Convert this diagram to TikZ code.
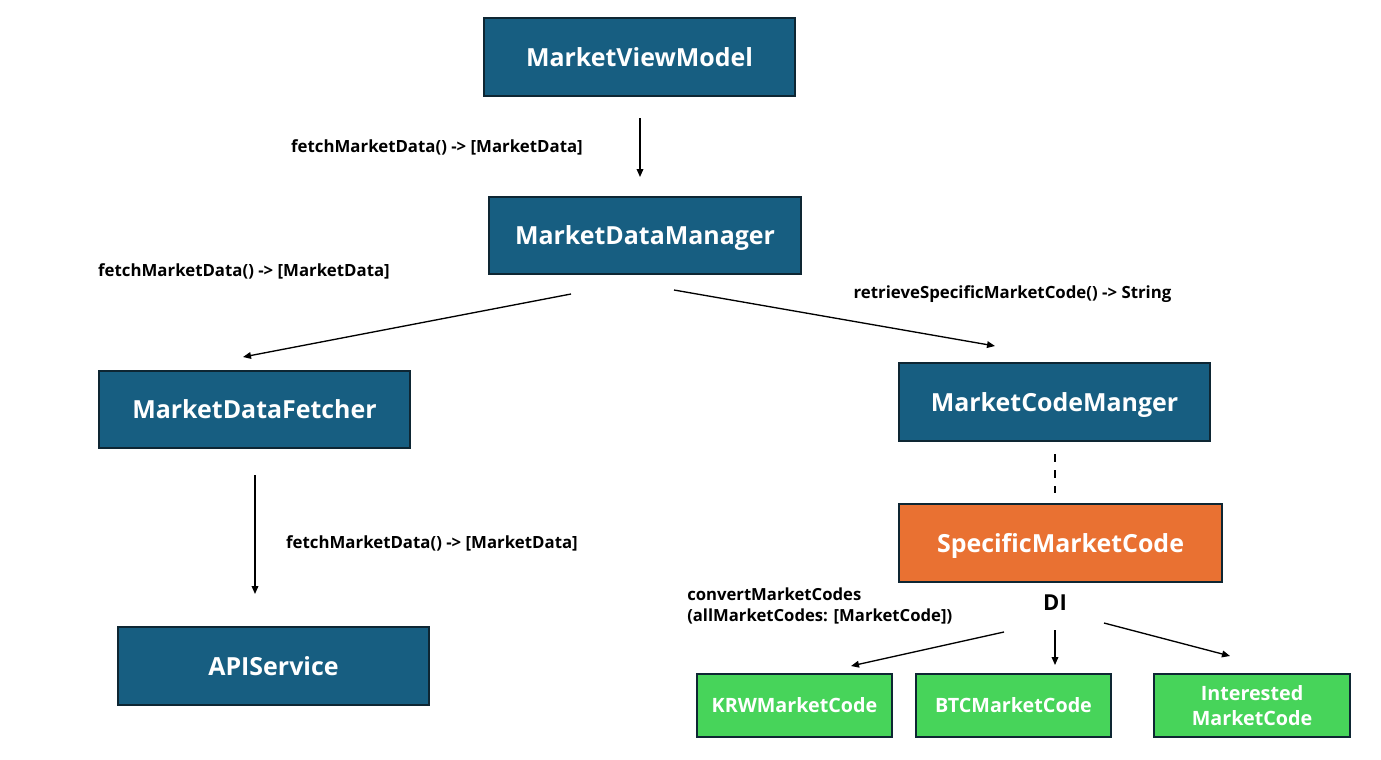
\documentclass[tikz,border=0pt]{standalone}
\usepackage{fontspec}
\setmainfont{Open Sans}
\usetikzlibrary{arrows.meta}
\definecolor{bluefill}{HTML}{175E81}
\definecolor{boxline}{HTML}{0E2633}
\definecolor{orangefill}{HTML}{E97132}
\definecolor{greenfill}{HTML}{47D45A}
\tikzset{
  bigbox/.style={draw=boxline, line width=1.5pt, fill=bluefill, text=white, font=\bfseries\fontsize{18.7}{22}\selectfont, inner sep=0pt, text depth=0pt},
  smallbox/.style={draw=boxline, line width=1.5pt, fill=greenfill, text=white, font=\bfseries\fontsize{14.8}{18.75}\selectfont, inner sep=0pt, align=center},
  lbl/.style={font=\bfseries\fontsize{12.6}{15}\selectfont, inner sep=0pt},
  conn/.style={line width=1pt, -{Triangle[length=6pt,width=5pt]}},
}
\begin{document}
\begin{tikzpicture}[x=0.75pt,y=-0.75pt]
\useasboundingbox (0,0) rectangle (1381,760);
% boxes
\node[bigbox, minimum width=311*0.75pt, minimum height=78*0.75pt] (mvm) at (639.5,57) {MarketViewModel};
\node[bigbox, minimum width=312*0.75pt, minimum height=77*0.75pt] (mdm) at (645,235.5) {MarketDataManager};
\node[bigbox, minimum width=311*0.75pt, minimum height=77*0.75pt] (mdf) at (254.5,409.5) {MarketDataFetcher};
\node[bigbox, minimum width=311*0.75pt, minimum height=78*0.75pt] (mcm) at (1054.5,402) {MarketCodeManger};
\node[bigbox, fill=orangefill, minimum width=323*0.75pt, minimum height=78*0.75pt] (smc) at (1060.5,543) {SpecificMarketCode};
\node[bigbox, minimum width=311*0.75pt, minimum height=78*0.75pt] (api) at (273.5,666) {APIService};
\node[smallbox, minimum width=195*0.75pt, minimum height=63*0.75pt] (krw) at (794.5,705.5) {KRWMarketCode};
\node[smallbox, minimum width=195*0.75pt, minimum height=63*0.75pt] (btc) at (1013.5,705.5) {BTCMarketCode};
\node[smallbox, minimum width=196*0.75pt, minimum height=63*0.75pt] (imc) at (1252,705.5) {Interested\\MarketCode};
% labels
\node[lbl] (l1) at (437,147) {fetchMarketData() -> [MarketData]};
\node[lbl] (l2) at (244,271) {fetchMarketData() -> [MarketData]};
\node[lbl] (l3) at (1012.5,294) {retrieveSpecificMarketCode() -> String};
\node[lbl] (l4) at (432,543) {fetchMarketData() -> [MarketData]};
\node[lbl, align=left, anchor=north west, font=\bfseries\fontsize{12.5}{15.75}\selectfont] (l5) at (687,588) {convertMarketCodes\\(allMarketCodes: [MarketCode])};
\node[font=\bfseries\fontsize{16.5}{19}\selectfont, inner sep=0pt] (di) at (1055,603) {DI};
% connector endpoints
\coordinate (a1s) at (640,118); \coordinate (a1e) at (640,177);
\coordinate (a2s) at (571,294); \coordinate (a2e) at (243,357);
\coordinate (a3s) at (674,290); \coordinate (a3e) at (995,346);
\coordinate (a4s) at (255,475); \coordinate (a4e) at (255,594);
\coordinate (d1s) at (1055,454); \coordinate (d1e) at (1055,493);
\coordinate (a5s) at (1004,632); \coordinate (a5e) at (851,666);
\coordinate (a6s) at (1055,630); \coordinate (a6e) at (1055,665);
\coordinate (a7s) at (1104,623); \coordinate (a7e) at (1230,656);
\draw[conn] (a1s) -- (a1e);
\draw[conn] (a2s) -- (a2e);
\draw[conn] (a3s) -- (a3e);
\draw[conn] (a4s) -- (a4e);
\draw[line width=1.5pt, dash pattern=on 6pt off 6pt] (d1s) -- (d1e);
\draw[conn] (a5s) -- (a5e);
\draw[conn] (a6s) -- (a6e);
\draw[conn] (a7s) -- (a7e);
\end{tikzpicture}
\end{document}
